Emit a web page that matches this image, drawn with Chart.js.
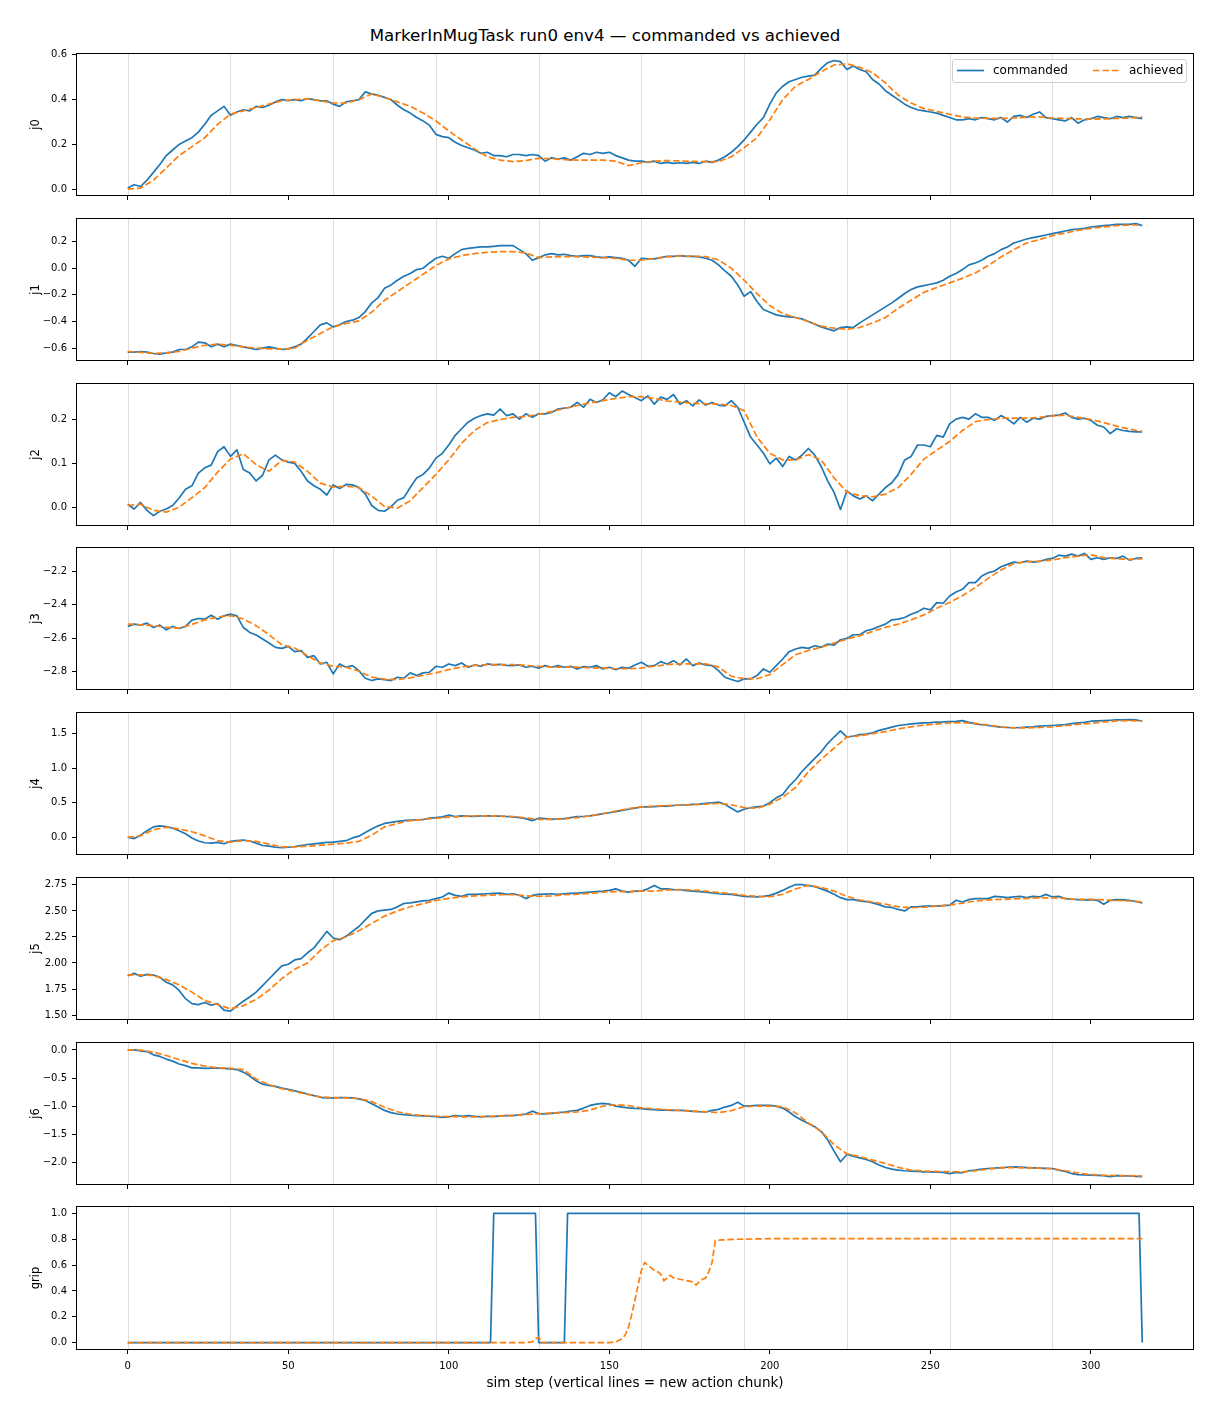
<!DOCTYPE html>
<html><head><meta charset="utf-8">
<script src="https://cdn.jsdelivr.net/npm/chart.js@4"></script>
<style>
body{margin:0;background:#fff;}
#wrap{position:relative;width:1210px;height:1408px;overflow:hidden;background:#fff;font-family:'DejaVu Sans',sans-serif;color:#000;}
#title{position:absolute;left:0;top:26px;width:1210px;text-align:center;font-size:16.67px;line-height:20px;}
#legend{position:absolute;left:952px;top:59px;width:235px;height:24px;box-sizing:border-box;border:1px solid #d0d0d0;border-radius:3px;background:rgba(255,255,255,0.8);font-size:12px;z-index:5;}
#legend span{position:absolute;top:3px;line-height:14px;white-space:nowrap;}
#legend svg{position:absolute;top:9px;}
canvas{position:absolute;left:0;}
</style></head><body>
<div id="wrap">
<div id="title">MarkerInMugTask run0 env4 — commanded vs achieved</div>
<div id="legend">
<svg style="left:4px" width="27" height="3"><line x1="0" y1="1.5" x2="27" y2="1.5" stroke="#1f77b4" stroke-width="1.7"/></svg>
<span style="left:40px">commanded</span>
<svg style="left:140px" width="27" height="3"><line x1="0" y1="1.5" x2="27" y2="1.5" stroke="#ff7f0e" stroke-width="1.7" stroke-dasharray="6.5,3"/></svg>
<span style="left:176px">achieved</span>
</div>
</div>
<script>
// ---------- data ----------
const steps2 = [0,2,4,6,8,10,12,14,
16,18,20,22,24,26,28,30,
32,34,36,38,40,42,44,46,
48,50,52,54,56,58,60,62,
64,66,68,70,72,74,76,78,
80,82,84,86,88,90,92,94,
96,98,100,102,104,106,108,110,
112,114,116,118,120,122,124,126,
128,130,132,134,136,138,140,142,
144,146,148,150,152,154,156,158,
160,162,164,166,168,170,172,174,
176,178,180,182,184,186,188,190,
192,194,196,198,200,202,204,206,
208,210,212,214,216,218,220,222,
224,226,228,230,232,234,236,238,
240,242,244,246,248,250,252,254,
256,258,260,262,264,266,268,270,
272,274,276,278,280,282,284,286,
288,290,292,294,296,298,300,302,
304,306,308,310,312,314,316];
const steps4 = [0,4,8,12,16,20,24,28,
32,36,40,44,48,52,56,60,
64,68,72,76,80,84,88,92,
96,100,104,108,112,116,120,124,
128,132,136,140,144,148,152,156,
160,164,168,172,176,180,184,188,
192,196,200,204,208,212,216,220,
224,228,232,236,240,244,248,252,
256,260,264,268,272,276,280,284,
288,292,296,300,304,308,312,316];

const j0Cmd = [0.005,0.02,0.012,0.04,0.075,0.11,0.15,0.175,
0.20,0.215,0.23,0.255,0.29,0.33,0.35,0.37,
0.33,0.345,0.355,0.35,0.37,0.365,0.375,0.39,
0.40,0.395,0.40,0.395,0.405,0.40,0.395,0.395,
0.38,0.37,0.39,0.395,0.40,0.435,0.425,0.42,
0.41,0.40,0.375,0.355,0.34,0.32,0.305,0.285,
0.245,0.235,0.23,0.21,0.195,0.185,0.175,0.16,
0.165,0.15,0.15,0.145,0.155,0.155,0.15,0.155,
0.15,0.125,0.14,0.135,0.14,0.13,0.145,0.16,
0.155,0.165,0.16,0.165,0.15,0.14,0.13,0.125,
0.125,0.12,0.125,0.115,0.12,0.115,0.118,0.115,
0.12,0.115,0.125,0.12,0.13,0.145,0.165,0.19,
0.22,0.255,0.29,0.32,0.38,0.43,0.46,0.48,
0.49,0.50,0.505,0.51,0.54,0.565,0.575,0.57,
0.535,0.55,0.535,0.525,0.49,0.47,0.44,0.42,
0.40,0.38,0.365,0.355,0.35,0.345,0.34,0.33,
0.32,0.31,0.31,0.315,0.31,0.32,0.315,0.31,
0.32,0.30,0.325,0.33,0.32,0.335,0.345,0.32,
0.315,0.31,0.305,0.32,0.295,0.31,0.315,0.325,
0.32,0.315,0.325,0.32,0.325,0.32,0.315];
const j0Ach = [0.0,0.005,0.04,0.095,0.15,0.19,0.23,0.29,
0.335,0.35,0.365,0.38,0.395,0.40,0.404,0.395,
0.385,0.385,0.40,0.425,0.41,0.39,0.37,0.34,
0.305,0.26,0.22,0.18,0.145,0.13,0.123,0.128,
0.138,0.136,0.132,0.13,0.13,0.13,0.125,0.105,
0.118,0.125,0.128,0.126,0.124,0.123,0.123,0.145,
0.185,0.23,0.31,0.40,0.46,0.49,0.525,0.555,
0.56,0.545,0.52,0.475,0.42,0.385,0.36,0.348,
0.335,0.323,0.318,0.316,0.316,0.318,0.322,0.323,
0.318,0.316,0.314,0.313,0.314,0.316,0.318,0.323];

const j1Cmd = [-0.63,-0.63,-0.625,-0.63,-0.64,-0.645,-0.635,-0.63,
-0.61,-0.61,-0.59,-0.555,-0.56,-0.59,-0.57,-0.59,
-0.57,-0.58,-0.59,-0.60,-0.61,-0.60,-0.59,-0.60,
-0.61,-0.605,-0.59,-0.57,-0.525,-0.475,-0.425,-0.41,
-0.44,-0.425,-0.40,-0.39,-0.37,-0.325,-0.26,-0.22,
-0.15,-0.125,-0.09,-0.06,-0.04,-0.01,0.0,0.04,
0.075,0.09,0.075,0.11,0.14,0.15,0.155,0.16,
0.16,0.165,0.17,0.17,0.17,0.14,0.11,0.06,
0.08,0.10,0.11,0.10,0.105,0.095,0.09,0.095,
0.095,0.085,0.08,0.085,0.08,0.075,0.06,0.015,
0.075,0.07,0.07,0.08,0.09,0.09,0.095,0.09,
0.09,0.085,0.075,0.06,0.025,-0.02,-0.06,-0.125,
-0.21,-0.175,-0.25,-0.31,-0.33,-0.35,-0.36,-0.365,
-0.37,-0.38,-0.40,-0.42,-0.44,-0.455,-0.47,-0.445,
-0.44,-0.445,-0.41,-0.38,-0.35,-0.32,-0.29,-0.26,
-0.225,-0.19,-0.16,-0.14,-0.13,-0.12,-0.11,-0.09,
-0.06,-0.04,-0.01,0.025,0.04,0.06,0.09,0.11,
0.14,0.16,0.19,0.205,0.22,0.23,0.24,0.25,
0.26,0.27,0.28,0.29,0.295,0.30,0.31,0.315,
0.32,0.325,0.33,0.33,0.33,0.335,0.32];
const j1Ach = [-0.625,-0.632,-0.64,-0.635,-0.625,-0.6,-0.578,-0.57,
-0.578,-0.59,-0.60,-0.605,-0.607,-0.6,-0.54,-0.49,
-0.44,-0.415,-0.395,-0.33,-0.24,-0.175,-0.11,-0.045,
0.02,0.07,0.095,0.11,0.12,0.125,0.125,0.115,
0.08,0.085,0.088,0.087,0.083,0.08,0.075,0.06,
0.06,0.075,0.085,0.093,0.09,0.088,0.063,0.0,
-0.09,-0.19,-0.28,-0.34,-0.37,-0.40,-0.435,-0.45,
-0.458,-0.445,-0.41,-0.37,-0.30,-0.24,-0.18,-0.145,
-0.11,-0.075,-0.035,0.02,0.085,0.14,0.19,0.215,
0.245,0.265,0.285,0.30,0.31,0.32,0.325,0.325];

const j2Cmd = [0.007,-0.004,0.011,-0.007,-0.019,-0.009,-0.004,0.004,
0.021,0.041,0.049,0.078,0.09,0.096,0.127,0.138,
0.116,0.131,0.086,0.078,0.06,0.073,0.108,0.119,
0.108,0.103,0.10,0.082,0.06,0.049,0.041,0.028,
0.051,0.043,0.052,0.051,0.045,0.03,0.004,-0.007,
-0.009,0.001,0.016,0.022,0.045,0.067,0.075,0.09,
0.112,0.123,0.142,0.164,0.179,0.194,0.203,0.209,
0.213,0.21,0.224,0.209,0.213,0.201,0.213,0.205,
0.213,0.213,0.216,0.224,0.226,0.228,0.239,0.228,
0.246,0.239,0.245,0.261,0.252,0.265,0.257,0.25,
0.243,0.254,0.235,0.251,0.246,0.257,0.235,0.243,
0.231,0.245,0.233,0.239,0.233,0.231,0.243,0.228,
0.194,0.16,0.142,0.123,0.099,0.112,0.093,0.116,
0.108,0.119,0.134,0.119,0.093,0.06,0.034,-0.005,
0.037,0.026,0.019,0.026,0.015,0.03,0.045,0.056,
0.075,0.108,0.116,0.142,0.142,0.138,0.164,0.16,
0.19,0.201,0.205,0.201,0.213,0.205,0.205,0.198,
0.209,0.201,0.19,0.205,0.194,0.203,0.201,0.207,
0.209,0.21,0.215,0.205,0.201,0.203,0.198,0.187,
0.183,0.168,0.179,0.175,0.173,0.172,0.172];
const j2Ach = [0.004,0.007,-0.007,-0.011,0.0,0.022,0.045,0.08,
0.11,0.122,0.097,0.082,0.107,0.103,0.082,0.055,
0.046,0.048,0.045,0.025,0.002,-0.002,0.015,0.045,
0.075,0.108,0.146,0.175,0.193,0.2,0.205,0.207,
0.212,0.218,0.225,0.232,0.238,0.243,0.248,0.252,
0.252,0.248,0.242,0.24,0.237,0.236,0.235,0.232,
0.22,0.16,0.123,0.108,0.108,0.12,0.108,0.067,
0.035,0.026,0.024,0.03,0.045,0.075,0.11,0.13,
0.15,0.175,0.195,0.2,0.203,0.203,0.203,0.205,
0.208,0.21,0.205,0.2,0.193,0.185,0.178,0.173];

const j3Cmd = [-2.53,-2.516,-2.522,-2.51,-2.536,-2.522,-2.55,-2.53,
-2.542,-2.53,-2.492,-2.482,-2.486,-2.462,-2.486,-2.466,
-2.456,-2.466,-2.536,-2.566,-2.582,-2.606,-2.63,-2.656,
-2.662,-2.65,-2.682,-2.676,-2.716,-2.706,-2.756,-2.746,
-2.816,-2.756,-2.776,-2.766,-2.796,-2.842,-2.856,-2.846,
-2.85,-2.856,-2.836,-2.842,-2.81,-2.826,-2.81,-2.806,
-2.77,-2.776,-2.756,-2.766,-2.75,-2.776,-2.762,-2.77,
-2.756,-2.762,-2.758,-2.765,-2.766,-2.762,-2.776,-2.77,
-2.782,-2.766,-2.776,-2.766,-2.776,-2.77,-2.786,-2.772,
-2.776,-2.766,-2.786,-2.776,-2.79,-2.776,-2.782,-2.762,
-2.746,-2.77,-2.766,-2.742,-2.756,-2.736,-2.762,-2.726,
-2.766,-2.75,-2.762,-2.766,-2.796,-2.836,-2.85,-2.862,
-2.846,-2.846,-2.826,-2.786,-2.806,-2.766,-2.726,-2.682,
-2.666,-2.656,-2.662,-2.646,-2.656,-2.636,-2.642,-2.61,
-2.602,-2.58,-2.58,-2.556,-2.546,-2.53,-2.516,-2.49,
-2.486,-2.476,-2.456,-2.442,-2.42,-2.43,-2.386,-2.39,
-2.346,-2.322,-2.306,-2.266,-2.266,-2.226,-2.206,-2.196,
-2.17,-2.156,-2.142,-2.146,-2.136,-2.142,-2.138,-2.126,
-2.12,-2.1,-2.106,-2.094,-2.106,-2.09,-2.126,-2.116,
-2.126,-2.116,-2.12,-2.106,-2.13,-2.12,-2.116];
const j3Ach = [-2.515,-2.52,-2.525,-2.535,-2.54,-2.518,-2.49,-2.473,
-2.465,-2.485,-2.525,-2.58,-2.64,-2.66,-2.706,-2.75,
-2.77,-2.776,-2.8,-2.835,-2.848,-2.85,-2.84,-2.825,
-2.81,-2.79,-2.775,-2.765,-2.76,-2.76,-2.76,-2.765,
-2.77,-2.775,-2.775,-2.775,-2.78,-2.78,-2.785,-2.785,
-2.78,-2.77,-2.76,-2.755,-2.755,-2.755,-2.775,-2.83,
-2.845,-2.845,-2.82,-2.76,-2.7,-2.675,-2.655,-2.63,
-2.606,-2.585,-2.56,-2.535,-2.516,-2.49,-2.46,-2.42,
-2.385,-2.345,-2.295,-2.24,-2.19,-2.15,-2.14,-2.136,
-2.13,-2.115,-2.106,-2.098,-2.115,-2.122,-2.125,-2.122];

const j4Cmd = [0.0,-0.02,0.03,0.095,0.15,0.165,0.155,0.13,
0.095,0.05,-0.01,-0.055,-0.08,-0.085,-0.075,-0.095,
-0.06,-0.05,-0.04,-0.055,-0.085,-0.12,-0.13,-0.145,
-0.15,-0.145,-0.135,-0.12,-0.105,-0.095,-0.085,-0.075,
-0.07,-0.06,-0.05,-0.01,0.015,0.07,0.12,0.165,
0.2,0.215,0.23,0.24,0.25,0.252,0.257,0.276,
0.285,0.295,0.32,0.30,0.31,0.305,0.30,0.31,
0.31,0.305,0.305,0.30,0.295,0.285,0.27,0.24,
0.276,0.27,0.26,0.265,0.27,0.285,0.30,0.30,
0.31,0.325,0.343,0.355,0.37,0.39,0.405,0.42,
0.44,0.44,0.443,0.45,0.452,0.46,0.467,0.47,
0.476,0.48,0.49,0.50,0.51,0.476,0.42,0.367,
0.405,0.43,0.44,0.452,0.50,0.571,0.62,0.74,
0.833,0.952,1.048,1.143,1.238,1.357,1.452,1.54,
1.452,1.467,1.486,1.495,1.514,1.548,1.571,1.595,
1.619,1.63,1.643,1.65,1.657,1.66,1.667,1.67,
1.676,1.68,1.69,1.665,1.643,1.63,1.619,1.605,
1.595,1.59,1.586,1.59,1.595,1.60,1.61,1.615,
1.619,1.625,1.633,1.645,1.657,1.665,1.681,1.685,
1.69,1.695,1.70,1.70,1.705,1.70,1.681];
const j4Ach = [0.0,0.02,0.11,0.145,0.12,0.08,0.02,-0.05,
-0.07,-0.05,-0.06,-0.1,-0.14,-0.14,-0.13,-0.115,
-0.1,-0.085,-0.06,0.03,0.15,0.2,0.24,0.26,
0.275,0.29,0.3,0.31,0.31,0.305,0.3,0.28,
0.26,0.26,0.265,0.285,0.31,0.34,0.38,0.415,
0.44,0.45,0.46,0.465,0.47,0.48,0.49,0.47,
0.43,0.42,0.48,0.58,0.72,0.95,1.13,1.29,
1.45,1.47,1.5,1.53,1.57,1.6,1.625,1.64,
1.655,1.66,1.65,1.625,1.6,1.585,1.585,1.59,
1.6,1.615,1.635,1.65,1.67,1.685,1.69,1.685];

const j5Cmd = [1.878,1.9,1.872,1.89,1.884,1.862,1.815,1.79,
1.736,1.657,1.61,1.60,1.62,1.594,1.61,1.547,
1.538,1.588,1.632,1.673,1.72,1.783,1.846,1.909,
1.972,1.988,2.029,2.042,2.098,2.145,2.224,2.303,
2.24,2.224,2.256,2.303,2.35,2.413,2.476,2.5,
2.508,2.514,2.539,2.571,2.577,2.586,2.596,2.602,
2.618,2.634,2.671,2.649,2.64,2.659,2.659,2.662,
2.665,2.668,2.671,2.659,2.665,2.65,2.618,2.649,
2.659,2.662,2.665,2.66,2.665,2.668,2.671,2.675,
2.68,2.685,2.69,2.697,2.712,2.69,2.68,2.69,
2.69,2.712,2.745,2.712,2.712,2.705,2.703,2.695,
2.69,2.685,2.68,2.672,2.665,2.662,2.659,2.65,
2.64,2.637,2.634,2.64,2.649,2.671,2.697,2.728,
2.753,2.753,2.744,2.734,2.712,2.69,2.659,2.627,
2.608,2.608,2.596,2.59,2.577,2.56,2.539,2.533,
2.514,2.5,2.539,2.54,2.545,2.545,2.545,2.55,
2.555,2.602,2.586,2.608,2.618,2.618,2.618,2.64,
2.634,2.627,2.634,2.64,2.627,2.64,2.634,2.659,
2.634,2.64,2.618,2.612,2.608,2.605,2.608,2.602,
2.564,2.602,2.608,2.605,2.602,2.59,2.577];
const j5Ach = [1.885,1.885,1.88,1.84,1.79,1.72,1.64,1.6,
1.56,1.59,1.65,1.74,1.85,1.94,2.0,2.12,
2.215,2.25,2.31,2.38,2.45,2.5,2.54,2.57,
2.6,2.62,2.635,2.645,2.65,2.655,2.655,2.645,
2.64,2.645,2.655,2.66,2.67,2.68,2.685,2.685,
2.69,2.69,2.7,2.705,2.7,2.69,2.675,2.665,
2.65,2.64,2.636,2.66,2.71,2.745,2.725,2.69,
2.64,2.605,2.585,2.565,2.54,2.53,2.535,2.545,
2.555,2.575,2.595,2.605,2.61,2.615,2.62,2.625,
2.625,2.62,2.61,2.61,2.605,2.6,2.595,2.585];

const j6Cmd = [0.0,0.0,-0.017,-0.03,-0.087,-0.116,-0.163,-0.2,
-0.25,-0.28,-0.32,-0.32,-0.33,-0.325,-0.325,-0.33,
-0.337,-0.35,-0.395,-0.465,-0.55,-0.61,-0.63,-0.65,
-0.68,-0.7,-0.727,-0.756,-0.785,-0.814,-0.843,-0.855,
-0.855,-0.85,-0.85,-0.855,-0.872,-0.9,-0.96,-1.017,
-1.076,-1.116,-1.14,-1.15,-1.163,-1.17,-1.174,-1.18,
-1.186,-1.2,-1.19,-1.17,-1.18,-1.17,-1.18,-1.19,
-1.18,-1.186,-1.174,-1.17,-1.17,-1.157,-1.14,-1.09,
-1.134,-1.14,-1.128,-1.116,-1.105,-1.087,-1.076,-1.035,
-0.988,-0.965,-0.953,-0.965,-1.0,-1.017,-1.03,-1.04,
-1.046,-1.058,-1.064,-1.07,-1.07,-1.076,-1.076,-1.08,
-1.093,-1.1,-1.105,-1.076,-1.058,-1.017,-0.988,-0.93,
-1.0,-0.994,-0.988,-0.988,-0.988,-1.0,-1.035,-1.105,
-1.19,-1.25,-1.308,-1.366,-1.453,-1.6,-1.8,-1.99,
-1.86,-1.89,-1.92,-1.95,-1.99,-2.047,-2.093,-2.122,
-2.14,-2.15,-2.157,-2.163,-2.169,-2.17,-2.174,-2.18,
-2.2,-2.18,-2.186,-2.15,-2.14,-2.122,-2.11,-2.105,
-2.093,-2.088,-2.081,-2.085,-2.093,-2.1,-2.105,-2.108,
-2.11,-2.14,-2.163,-2.2,-2.22,-2.225,-2.227,-2.232,
-2.238,-2.256,-2.238,-2.24,-2.244,-2.25,-2.256];
const j6Ach = [0.0,-0.005,-0.04,-0.1,-0.17,-0.24,-0.29,-0.32,
-0.33,-0.35,-0.52,-0.62,-0.69,-0.74,-0.79,-0.835,
-0.85,-0.855,-0.865,-0.92,-1.02,-1.1,-1.145,-1.17,
-1.18,-1.185,-1.19,-1.19,-1.185,-1.175,-1.165,-1.15,
-1.134,-1.125,-1.115,-1.105,-1.07,-1.0,-0.975,-0.99,
-1.03,-1.05,-1.065,-1.075,-1.09,-1.1,-1.115,-1.08,
-1.01,-1.0,-1.0,-1.01,-1.12,-1.3,-1.45,-1.686,
-1.85,-1.9,-1.96,-2.02,-2.09,-2.14,-2.155,-2.163,
-2.167,-2.169,-2.15,-2.12,-2.1,-2.093,-2.1,-2.105,
-2.115,-2.15,-2.19,-2.22,-2.23,-2.235,-2.238,-2.245];

const gripCmdSteps = [0,113,114,127,128,136,137,315,316];
const gripCmd      = [0,0,1,1,0,0,1,1,0];
const gripAchSteps = [0,124,126,127,128,129,131,150,152,154,155,156,157,158,159,160,161,162,163,164,165,166,167,168,169,170,172,174,176,177,178,179,180,181,182,183,185,190,200,316];
const gripAch      = [0,0,0.005,0.03,0.04,0.0,0.0,0.0,0.005,0.03,0.06,0.12,0.22,0.33,0.45,0.56,0.62,0.6,0.58,0.56,0.55,0.53,0.48,0.5,0.52,0.5,0.49,0.48,0.47,0.445,0.47,0.49,0.5,0.55,0.62,0.79,0.795,0.8,0.805,0.805];

const chunkStarts = [0,32,64,96,128,160,192,224,256,288];
const xTickVals = [0,50,100,150,200,250,300];
const j0Ticks = [0.0,0.2,0.4,0.6];
const j1Ticks = [-0.6,-0.4,-0.2,0.0,0.2];
const j2Ticks = [0.0,0.1,0.2];
const j3Ticks = [-2.8,-2.6,-2.4,-2.2];
const j4Ticks = [0.0,0.5,1.0,1.5];
const j5Ticks = [1.5,1.75,2.0,2.25,2.5,2.75];
const j6Ticks = [-2.0,-1.5,-1.0,-0.5,0.0];
const gripTicks = [0.0,0.2,0.4,0.6,0.8,1.0];
const panelNames = ['j0','j1','j2','j3','j4','j5','j6','grip'];

// ---------- layout / style ----------
const BLUE = '#1f77b4', ORANGE = '#ff7f0e';
const panelTops = [53,218,383,547,712,877,1042,1206];
const PANEL_H = 143;
const panels = [
  {cmd:j0Cmd, ach:j0Ach, yMin:-0.026, yMax:0.604, ticks:j0Ticks, dec:1},
  {cmd:j1Cmd, ach:j1Ach, yMin:-0.689, yMax:0.370, ticks:j1Ticks, dec:1},
  {cmd:j2Cmd, ach:j2Ach, yMin:-0.0404, yMax:0.281, ticks:j2Ticks, dec:1},
  {cmd:j3Cmd, ach:j3Ach, yMin:-2.907, yMax:-2.057, ticks:j3Ticks, dec:1},
  {cmd:j4Cmd, ach:j4Ach, yMin:-0.243, yMax:1.80, ticks:j4Ticks, dec:1},
  {cmd:j5Cmd, ach:j5Ach, yMin:1.462, yMax:2.816, ticks:j5Ticks, dec:2},
  {cmd:j6Cmd, ach:j6Ach, yMin:-2.386, yMax:0.123, ticks:j6Ticks, dec:1},
  {cmd:gripCmd, cmdSteps:gripCmdSteps, ach:gripAch, achSteps:gripAchSteps, yMin:-0.05, yMax:1.05, ticks:gripTicks, dec:1}
];

Chart.defaults.font.family = "'DejaVu Sans', sans-serif";
Chart.defaults.color = '#000';

function fmt(v, d){ return Number(v).toFixed(d).replace('-', '\u2212'); }
function pts(xs, ys){ return xs.map((s,i)=>({x:s, y:ys[i]})); }

const deco = {
  id:'deco',
  beforeDatasetsDraw(chart){
    const {ctx, chartArea:{top,bottom}, scales:{x}} = chart;
    ctx.save();
    ctx.strokeStyle = '#dedede'; ctx.lineWidth = 1;
    chunkStarts.forEach(s=>{
      const px = Math.round(x.getPixelForValue(s)) + 0.5;
      ctx.beginPath(); ctx.moveTo(px, top); ctx.lineTo(px, bottom); ctx.stroke();
    });
    ctx.restore();
  },
  afterDraw(chart){
    const {ctx, chartArea:{left,top,right,bottom}} = chart;
    ctx.save();
    ctx.strokeStyle = '#000'; ctx.lineWidth = 1;
    ctx.strokeRect(left - 0.5, top - 0.5, right - left + 1, bottom - top + 1);
    ctx.restore();
  }
};

const wrap = document.getElementById('wrap');
panels.forEach((p, i) => {
  const last = i === panels.length - 1;
  const padTop = 10, padBot = last ? 59 : 10;
  const cv = document.createElement('canvas');
  cv.width = 1210; cv.height = padTop + PANEL_H + padBot;
  cv.style.top = (panelTops[i] - padTop) + 'px';
  wrap.insertBefore(cv, document.getElementById('legend'));
  new Chart(cv, {
    type:'line',
    data:{datasets:[
      {label:'achieved', data:pts(p.achSteps || steps4, p.ach), borderColor:ORANGE, backgroundColor:ORANGE,
       borderWidth:1.7, borderDash:[6.5,2.8], pointRadius:0, fill:false, tension:0},
      {label:'commanded', data:pts(p.cmdSteps || steps2, p.cmd), borderColor:BLUE, backgroundColor:BLUE,
       borderWidth:1.7, borderJoinStyle:'round', pointRadius:0, fill:false, tension:0}
    ]},
    options:{
      responsive:false, animation:false, events:[],
      layout:{padding:{left:0, right:17, top:padTop, bottom:0}},
      plugins:{legend:{display:false}, tooltip:{enabled:false}},
      scales:{
        x:{type:'linear', min:-15.8, max:331.8,
           afterBuildTicks: s => { s.ticks = xTickVals.map(v => ({value:v})); },
           afterFit: s => { s.height = padBot; },
           ticks:{display:last, font:{size:10}, color:'#000', padding:6, maxRotation:0, autoSkip:false, callback: v => String(v)},
           grid:{display:true, drawOnChartArea:false, drawTicks:true, tickLength:5, tickColor:'#000', tickWidth:1},
           border:{display:false},
           title:{display:last, text:'sim step (vertical lines = new action chunk)', font:{size:13.5}, color:'#000', padding:{top:0, bottom:16}}
        },
        y:{type:'linear', min:p.yMin, max:p.yMax,
           afterBuildTicks: s => { s.ticks = p.ticks.map(v => ({value:v})); },
           afterFit: s => { s.width = 77; },
           ticks:{font:{size:10}, color:'#000', padding:5, callback: v => fmt(v, p.dec)},
           grid:{display:true, drawOnChartArea:false, drawTicks:true, tickLength:5, tickColor:'#000', tickWidth:1},
           border:{display:false},
           title:{display:true, text:panelNames[i], font:{size:11.5}, color:'#000', padding:{top:29, bottom:0}}
        }
      }
    },
    plugins:[deco]
  });
});
</script>
</body></html>
